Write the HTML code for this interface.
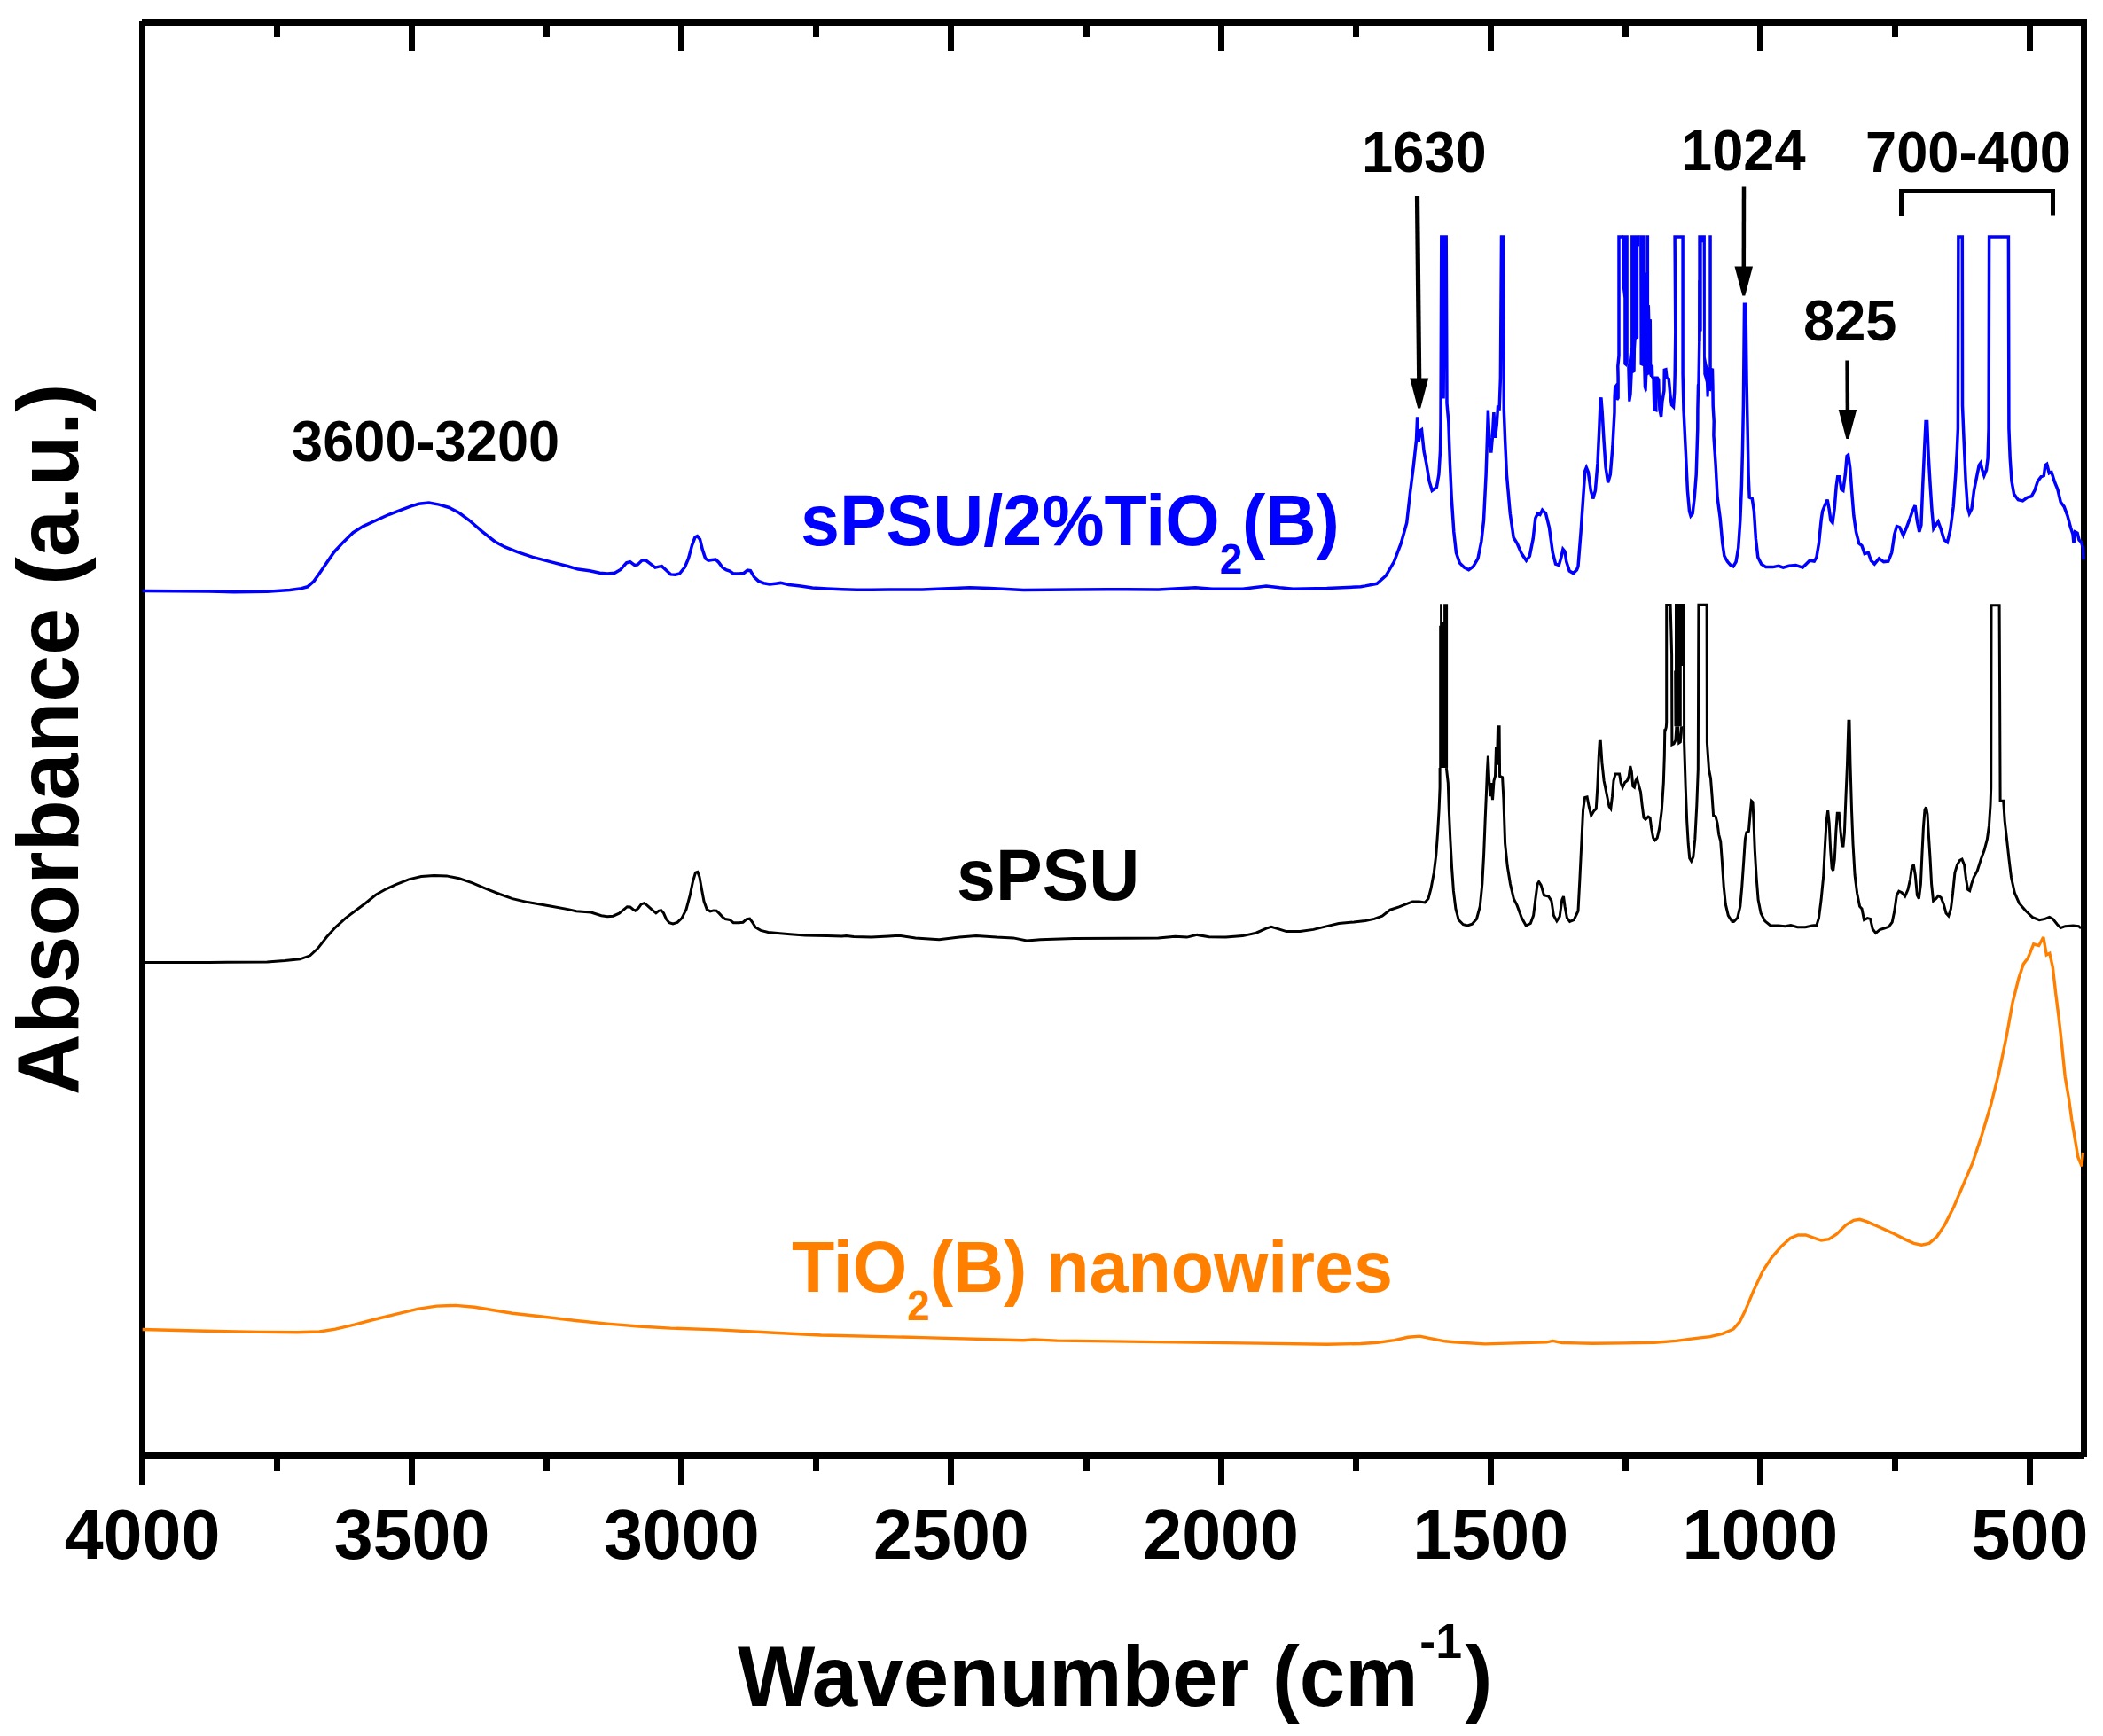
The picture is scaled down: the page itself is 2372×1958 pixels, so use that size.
<!DOCTYPE html>
<html lang="en"><head><meta charset="utf-8"><title>FTIR spectra</title>
<style>html,body{margin:0;padding:0;background:#fff}body{width:2372px;height:1958px;overflow:hidden}svg{display:block}text{font-family:'Liberation Sans', sans-serif;font-weight:bold}</style></head><body>
<svg width="2372" height="1958" viewBox="0 0 2372 1958">
<rect x="0" y="0" width="2372" height="1958" fill="#ffffff"/>
<g fill="#000000" shape-rendering="crispEdges">
<rect x="157" y="24" width="7" height="1651"/>
<rect x="160" y="21" width="2194" height="8"/>
<rect x="2347" y="21" width="7" height="1622"/>
<rect x="157" y="1638" width="2194" height="8"/>
<rect x="309" y="29" width="7" height="13"/>
<rect x="309" y="1646" width="7" height="13"/>
<rect x="461" y="29" width="7" height="29"/>
<rect x="461" y="1646" width="7" height="29"/>
<rect x="613" y="29" width="7" height="13"/>
<rect x="613" y="1646" width="7" height="13"/>
<rect x="765" y="29" width="7" height="29"/>
<rect x="765" y="1646" width="7" height="29"/>
<rect x="917" y="29" width="7" height="13"/>
<rect x="917" y="1646" width="7" height="13"/>
<rect x="1069" y="29" width="7" height="29"/>
<rect x="1069" y="1646" width="7" height="29"/>
<rect x="1222" y="29" width="7" height="13"/>
<rect x="1222" y="1646" width="7" height="13"/>
<rect x="1374" y="29" width="7" height="29"/>
<rect x="1374" y="1646" width="7" height="29"/>
<rect x="1526" y="29" width="7" height="13"/>
<rect x="1526" y="1646" width="7" height="13"/>
<rect x="1678" y="29" width="7" height="29"/>
<rect x="1678" y="1646" width="7" height="29"/>
<rect x="1830" y="29" width="7" height="13"/>
<rect x="1830" y="1646" width="7" height="13"/>
<rect x="1982" y="29" width="7" height="29"/>
<rect x="1982" y="1646" width="7" height="29"/>
<rect x="2134" y="29" width="7" height="13"/>
<rect x="2134" y="1646" width="7" height="13"/>
<rect x="2286" y="29" width="7" height="29"/>
<rect x="2286" y="1646" width="7" height="29"/>
</g>
<g fill="none" stroke-linejoin="miter" stroke-miterlimit="3" stroke-linecap="butt">
<polyline stroke="#ff8000" stroke-width="3.4" points="160.7,1499.5 221.3,1501.0 292.7,1502.4 335.4,1502.7 360.4,1502.0 378.2,1499.2 399.6,1494.2 421.0,1488.5 446.0,1482.4 471.0,1476.3 492.4,1473.1 513.8,1472.4 535.2,1474.2 556.6,1477.8 578.0,1481.3 613.6,1485.3 649.3,1489.5 685.0,1493.1 720.6,1496.0 756.3,1498.1 809.8,1499.9 863.3,1502.7 926.1,1506.0 1040.2,1508.6 1154.3,1511.7 1165.7,1510.9 1192.4,1512.1 1306.5,1513.6 1420.6,1515.1 1496.7,1516.2 1534.7,1515.5 1553.8,1514.3 1572.8,1511.7 1588.0,1508.3 1601.3,1507.1 1614.6,1509.8 1629.8,1512.8 1640.0,1513.8 1674.8,1515.9 1709.6,1514.9 1744.4,1513.8 1751.4,1512.4 1761.8,1514.5 1796.6,1515.2 1831.4,1514.9 1866.2,1514.2 1890.6,1512.4 1911.5,1509.6 1928.9,1507.6 1942.8,1504.4 1955.0,1499.2 1962.0,1491.2 1968.9,1477.3 1977.6,1456.4 1988.1,1433.8 1998.5,1418.1 2009.0,1405.9 2019.4,1396.5 2028.1,1393.0 2036.8,1393.0 2045.5,1396.2 2054.2,1399.0 2062.9,1397.6 2071.6,1392.0 2082.1,1381.6 2090.8,1376.3 2097.7,1375.3 2106.4,1378.1 2120.3,1384.3 2134.3,1390.6 2148.2,1397.6 2158.6,1402.4 2167.3,1404.2 2176.0,1402.4 2184.7,1394.8 2193.4,1381.6 2203.9,1360.7 2214.3,1336.3 2224.8,1311.9 2235.2,1280.6 2245.6,1245.8 2254.4,1211.0 2263.1,1169.2 2270.0,1130.9 2277.0,1103.1 2282.2,1087.4 2287.4,1080.5 2293.7,1064.8 2299.6,1066.5 2304.8,1057.1 2308.3,1077.0 2311.8,1075.2 2315.3,1090.9 2318.7,1120.5 2322.2,1148.3 2325.7,1179.7 2329.2,1214.5 2333.4,1238.8 2336.8,1263.2 2340.3,1284.1 2343.8,1305.0 2348.0,1315.4 2349.4,1299.8"/>
<polyline stroke="#000000" stroke-width="3.0" points="162.8,1085.5 235.6,1085.5 301.2,1084.9 321.2,1083.5 338.3,1081.8 349.7,1077.8 358.3,1069.8 368.3,1057.0 378.2,1046.1 389.7,1035.6 401.1,1027.0 412.5,1018.5 423.9,1009.3 435.3,1002.8 446.7,997.6 461.0,991.9 475.2,988.5 489.5,987.4 503.8,987.9 518.0,990.8 532.3,995.6 549.4,1002.8 563.7,1008.5 578.0,1013.6 595.1,1017.6 620.8,1021.9 640.7,1025.6 650.0,1027.7 666.6,1029.1 678.3,1032.7 685.0,1033.7 691.6,1033.2 698.3,1030.2 703.3,1026.1 707.4,1022.7 710.7,1022.9 714.1,1025.7 716.6,1027.1 719.9,1024.4 723.2,1019.9 726.6,1018.6 729.9,1021.1 734.9,1025.7 739.9,1029.9 742.9,1027.4 745.7,1026.6 748.5,1029.9 751.5,1036.6 754.9,1040.7 759.0,1041.9 764.0,1040.4 769.0,1035.7 774.0,1025.7 778.2,1009.9 781.5,994.1 784.5,984.1 786.8,983.3 789.0,989.1 791.5,1003.3 794.0,1016.6 797.3,1025.7 801.1,1027.9 804.8,1026.9 808.1,1027.1 811.4,1030.4 814.8,1034.1 818.1,1036.6 823.1,1037.4 827.2,1040.7 833.1,1040.7 838.1,1040.2 842.2,1036.6 845.6,1036.2 848.9,1040.7 852.2,1046.0 858.0,1049.4 866.4,1051.5 879.7,1052.7 891.3,1053.7 908.0,1054.9 932.9,1055.5 949.6,1055.9 954.6,1055.4 962.9,1056.5 982.9,1057.0 1002.2,1056.0 1013.6,1055.2 1032.6,1057.9 1059.2,1059.8 1082.0,1057.1 1101.1,1055.6 1123.9,1057.1 1142.9,1057.9 1158.1,1060.9 1173.3,1059.8 1211.4,1058.6 1268.4,1058.3 1306.5,1057.9 1325.5,1056.3 1338.8,1057.1 1350.2,1054.4 1363.6,1056.7 1382.6,1057.1 1401.6,1055.6 1416.8,1052.2 1428.2,1047.2 1433.9,1045.3 1441.5,1047.6 1451.0,1050.6 1466.3,1050.6 1481.5,1048.4 1496.7,1044.6 1510.0,1041.5 1527.1,1040.0 1540.0,1038.4 1550.1,1036.4 1559.0,1033.1 1567.9,1026.2 1578.0,1022.9 1586.9,1019.4 1593.2,1016.9 1600.8,1016.9 1607.2,1017.9 1611.0,1013.6 1614.0,1002.2 1617.3,984.4 1619.8,964.1 1621.6,938.8 1623.1,913.5 1624.1,888.1 1624.1,888.1 1624.1,866.1"/>
<polyline stroke="#000000" stroke-width="3.0" points="1631.4,866.1 1633.3,883.0 1634.3,913.5 1635.8,946.4 1637.6,979.4 1639.4,1004.7 1641.9,1025.0 1645.2,1037.6 1650.3,1042.7 1655.3,1044.0 1660.4,1042.2 1665.5,1036.4 1669.3,1022.4 1671.8,997.1 1673.6,964.1 1675.1,926.1 1676.4,895.7 1677.4,870.4 1678.4,852.6 1679.4,875.4 1680.7,898.2 1681.9,883.0 1683.5,902.1 1685.0,880.5 1686.5,875.4 1687.5,842.5 1688.5,862.8 1689.5,819.7 1691.1,819.7 1691.6,875.4 1694.6,876.7 1695.9,900.8 1697.6,951.5 1700.2,976.8 1703.5,997.1 1707.3,1013.6 1711.1,1021.2 1716.2,1035.1 1721.2,1044.0 1726.3,1041.5 1729.6,1032.6 1732.1,1012.3 1734.1,997.1 1735.7,994.6 1738.2,998.4 1741.5,1009.8 1746.6,1011.0 1749.9,1016.1 1752.4,1032.6 1755.9,1038.9 1759.2,1033.8 1761.8,1014.8 1763.5,1011.0 1765.1,1022.4 1767.4,1035.1 1770.6,1039.4 1775.2,1037.6 1778.8,1030.0 1780.0,1027.5 1782.0,989.5 1783.8,951.5 1785.6,913.5 1787.6,899.5 1790.1,898.8 1792.2,909.7 1794.7,919.8 1797.7,914.7 1800.3,912.2 1801.8,888.1 1803.3,852.6 1804.3,836.2 1805.3,836.2 1806.9,860.2 1809.1,880.5 1811.7,893.2 1815.0,909.7 1816.8,912.2 1818.5,898.2 1820.0,880.5 1822.1,872.9 1824.6,872.9 1826.6,872.9 1828.2,883.0 1830.2,888.1 1832.7,882.5 1835.3,880.5 1837.3,875.4 1838.8,864.0 1840.3,870.4 1841.8,886.8 1843.4,888.1 1844.9,880.5 1846.4,878.0 1848.4,885.6 1850.5,893.2 1852.2,908.4 1854.0,922.3 1856.0,924.1 1859.1,921.1 1861.1,922.3 1862.6,933.7 1864.7,945.1 1866.7,947.7 1869.2,945.1 1871.8,933.7 1874.3,913.5 1876.3,883.0 1877.3,852.6 1877.8,822.2 1877.8,825.5 1879.3,820.3 1879.7,815.2 1879.7,682.5 1884.1,682.5 1884.9,711.5 1885.6,738.4 1885.9,840.0 1888.0,839.0 1889.9,834.9 1890.9,819.3"/>
<polyline stroke="#000000" stroke-width="3.0" points="1892.7,819.3 1893.7,838.0 1895.3,836.9 1896.3,826.6 1896.6,819.3"/>
<polyline stroke="#000000" stroke-width="3.0" points="1899.5,750.9 1899.6,837.4 1901.2,888.1 1902.7,926.1 1904.2,951.5 1905.7,967.9 1907.7,971.2 1909.8,966.7 1911.8,946.4 1913.8,908.4 1915.3,867.8 1915.9,682.3 1925.1,682.3 1925.4,837.4 1927.5,867.8 1929.5,878.0 1931.1,898.2 1932.6,919.8 1935.1,921.1 1937.1,928.7 1938.7,941.3 1940.7,948.9 1942.2,969.2 1944.2,999.6 1946.3,1019.9 1949.3,1032.6 1952.9,1038.2 1956.2,1039.4 1955.7,1039.4 1959.8,1035.1 1962.8,1022.4 1964.8,999.6 1966.9,969.2 1968.4,946.4 1969.9,938.8 1972.4,937.5 1974.0,918.5 1975.5,903.3 1977.0,904.6 1978.0,926.1 1979.3,959.1 1981.1,989.5 1983.1,1014.8 1986.1,1030.0 1990.7,1038.9 1997.0,1044.0 2005.9,1044.0 2013.5,1044.7 2019.8,1043.5 2027.4,1045.8 2036.3,1045.8 2043.9,1044.0 2049.0,1043.5 2051.5,1035.1 2054.1,1014.8 2056.6,989.5 2058.6,951.5 2060.1,926.1 2061.7,914.2 2063.2,928.7 2064.7,959.1 2066.2,979.4 2067.7,981.9 2069.3,969.2 2070.8,938.8 2072.3,917.3 2074.3,917.3 2075.9,936.3 2077.4,951.5 2078.9,955.3 2080.4,938.8 2081.9,900.8 2083.5,862.8 2085.0,813.3 2086.0,813.3 2087.0,862.8 2088.5,913.5 2090.0,951.5 2092.1,987.0 2094.6,1007.2 2097.6,1022.4 2100.0,1025.0 2102.5,1037.6 2106.3,1035.6 2109.6,1036.4 2112.2,1047.8 2115.7,1052.4 2120.3,1048.5 2125.3,1047.0 2130.4,1045.3 2134.2,1040.2 2136.8,1027.5 2139.3,1009.8 2141.8,1005.2 2145.1,1006.7 2148.7,1011.0 2152.0,1003.4 2154.5,992.0 2156.3,979.4 2158.3,975.0 2160.3,987.0 2162.4,1009.8 2164.4,1013.6 2166.4,997.1 2167.9,964.1 2169.4,933.7 2171.0,913.5 2172.5,910.4 2174.0,918.5 2175.5,943.9 2177.1,969.2 2178.6,997.1 2180.6,1016.1 2183.6,1013.6 2186.2,1010.5 2189.2,1012.3 2192.3,1019.9 2195.0,1030.0 2197.8,1033.1 2200.4,1025.0 2202.6,1007.2 2204.9,984.4 2207.5,975.6 2210.5,970.5 2213.0,969.2 2215.6,975.6 2217.6,992.0 2219.6,1003.4 2221.7,1004.7 2223.7,997.1 2226.2,989.5 2230.3,981.9 2234.3,969.2 2238.1,959.1 2241.4,946.4 2243.5,931.2 2245.0,908.4 2245.7,888.1 2246.0,682.8 2255.1,682.8 2255.6,781.7 2256.1,903.3 2259.7,903.3 2261.2,926.1 2263.5,946.4 2266.0,969.2 2268.5,989.5 2272.4,1007.2 2277.4,1018.6 2285.0,1027.5 2292.6,1034.6 2300.2,1037.6 2306.6,1036.4 2311.6,1034.4 2315.4,1036.4 2320.5,1042.7 2324.3,1046.5 2329.4,1044.7 2338.2,1044.0 2344.6,1044.7 2347.1,1047.0"/>
<polygon fill="#000000" stroke="none" points="1624.1,681.3 1626.9,681.3 1626.9,701.1 1628.1,701.1 1628.1,681.3 1633.1,681.3 1633.1,866.1 1623.2,866.1 1623.2,705.8 1624.1,705.8"/>
<polygon fill="#000000" stroke="none" points="1889.0,680.9 1901.0,680.9 1901.0,750.9 1896.8,750.9 1896.8,819.3 1888.5,819.3 1888.2,757.1 1889.0,756.1"/>
<polyline stroke="#0000ff" stroke-width="3.5" points="160.8,666.6 235.6,666.9 264.1,667.8 301.2,667.2 326.9,665.5 338.3,664.1 346.9,661.8 354.0,655.5 361.1,645.5 368.3,635.0 376.8,622.7 386.8,611.9 398.2,600.7 409.6,593.6 423.9,587.0 438.2,580.5 452.4,575.1 463.8,570.8 472.4,568.2 483.8,567.1 495.2,569.1 506.6,572.5 518.0,578.5 529.5,587.0 543.7,599.3 558.0,610.7 569.4,617.0 583.7,622.7 600.8,628.4 620.8,633.6 640.7,638.7 652.1,642.1 665.0,643.7 676.6,646.2 685.0,647.0 693.3,646.2 699.9,642.4 706.6,634.9 710.7,633.7 715.7,637.4 719.1,636.9 724.1,632.1 728.2,631.9 733.2,635.7 739.0,640.2 743.2,639.1 746.5,638.6 751.5,643.2 756.5,647.9 761.5,648.2 766.5,647.0 772.3,639.9 776.5,629.9 780.6,614.9 784.0,605.8 786.5,604.6 789.5,608.3 792.3,619.9 795.6,629.9 799.0,632.1 803.1,631.6 807.3,631.1 810.6,634.1 814.8,639.9 818.9,642.7 823.1,644.0 827.2,646.9 833.1,647.0 838.9,646.5 843.1,643.2 846.4,643.7 850.5,650.7 855.5,655.4 861.4,657.7 868.0,659.0 874.7,658.2 880.5,657.4 889.7,659.4 903.0,661.0 916.3,662.9 932.9,663.9 949.6,664.7 966.2,665.2 982.9,665.2 1002.2,665.1 1040.2,665.1 1093.5,662.8 1116.3,663.6 1154.3,665.5 1211.4,665.1 1249.4,664.7 1306.5,665.1 1348.3,662.8 1367.4,664.3 1401.6,664.3 1428.2,660.9 1443.4,662.8 1458.7,664.3 1496.7,663.6 1534.7,661.7 1540.0,660.9 1553.0,658.3 1563.3,649.2 1572.4,633.6 1580.2,612.9 1586.7,589.6 1590.5,555.9 1594.4,524.8 1597.5,496.3 1598.6,470.3 1600.1,498.8 1601.7,485.9 1603.5,484.6 1606.1,509.2 1608.7,522.2 1612.1,542.9 1615.2,553.3 1620.4,549.4 1622.9,535.1 1624.5,509.2 1625.0,478.1 1625.8,267.1 1627.4,267.1 1628.1,449.6 1629.2,267.1 1631.2,267.1 1632.0,454.8 1633.8,475.5 1635.4,522.2 1637.2,561.1 1639.8,599.9 1642.4,623.3 1646.3,634.9 1651.5,640.1 1656.6,642.7 1661.8,638.8 1667.0,629.8 1670.9,610.3 1673.5,587.0 1676.1,535.1 1677.4,496.3 1678.4,462.6 1680.0,498.8 1681.8,510.5 1683.3,493.7 1684.9,465.1 1686.5,493.7 1688.3,478.1 1689.6,457.4 1691.1,462.6 1692.4,426.3 1693.5,267.1 1695.5,267.1 1696.3,462.6 1697.6,496.3 1699.4,535.1 1703.3,579.2 1707.2,606.4 1711.1,612.9 1716.3,624.6 1721.5,632.3 1725.3,627.2 1729.2,607.7 1731.8,584.4 1734.4,579.2 1737.0,580.5 1739.6,575.3 1743.5,579.2 1747.4,594.8 1751.3,623.3 1754.6,636.2 1758.3,637.5 1760.9,628.5 1762.9,619.4 1765.0,622.0 1766.8,633.6 1770.2,644.0 1774.6,646.6 1778.5,642.7 1780.0,638.8 1783.1,599.9 1785.7,561.1 1787.8,531.2 1789.3,527.4 1791.4,532.5 1794.3,553.3 1796.8,562.4 1799.4,553.3 1802.0,522.2 1803.8,483.3 1805.1,452.2 1805.9,448.3 1807.2,465.1 1809.0,496.3 1811.1,527.4 1813.7,544.2 1816.3,535.1 1818.9,504.0 1821.0,465.1 1821.1,448.7 1821.7,436.8 1823.2,434.8 1823.8,450.7 1825.1,448.7 1825.1,426.2 1824.8,413.0 1826.0,401.0 1826.0,267.1 1830.9,267.1"/>
<polyline stroke="#0000ff" stroke-width="3.5" points="1863.3,411.6 1863.7,424.9 1865.0,426.2 1865.4,444.8 1865.9,462.0 1867.8,462.6 1867.8,426.2 1869.4,426.2 1870.7,428.2 1871.2,446.1 1872.0,462.0 1873.6,469.9 1874.9,452.7 1876.9,440.8 1877.3,417.2 1878.9,416.7 1880.0,426.2 1882.2,427.3 1882.9,434.2 1883.9,446.1 1885.5,456.7 1887.5,458.7 1888.7,442.1 1889.2,422.2 1889.8,374.5 1889.1,267.1 1898.1,267.1 1898.1,422.2 1899.0,462.0 1901.3,509.2 1903.4,553.3 1905.5,576.6 1907.0,581.8 1909.1,579.2 1911.2,561.1 1913.2,535.1 1914.8,483.3 1914.9,462.0 1915.5,434.2 1916.0,432.8 1916.8,385.1 1917.1,316.2"/>
<polyline stroke="#0000ff" stroke-width="3.5" points="1931.4,415.6 1931.9,435.5 1932.2,458.0 1933.2,475.2 1932.9,491.1 1935.0,522.2 1937.1,561.1 1940.2,584.4 1942.8,612.9 1944.9,627.2 1948.5,633.6 1952.4,638.0 1955.0,638.8 1958.1,633.6 1960.7,618.1 1962.8,587.0 1964.4,548.1 1965.4,509.2 1966.4,457.4 1967.5,343.3 1969.0,343.3 1970.1,431.5 1971.1,483.3 1972.1,535.1 1973.2,561.1 1976.3,562.4 1978.4,576.6 1980.4,607.7 1982.8,628.5 1986.7,636.2 1991.8,639.6 1999.6,639.6 2006.1,638.3 2011.3,640.1 2017.8,638.3 2025.5,637.5 2033.3,640.1 2037.2,636.2 2041.1,632.3 2046.3,633.1 2048.9,628.5 2051.5,612.9 2054.1,587.0 2055.6,576.6 2058.2,570.1 2061.1,563.7 2063.1,574.0 2064.9,587.0 2067.0,589.6 2069.1,574.0 2071.2,548.1 2072.7,537.7 2074.8,537.7 2076.9,552.0 2078.9,553.3 2081.3,535.1 2083.1,514.4 2084.6,513.1 2086.7,527.4 2088.8,555.9 2090.9,581.8 2093.5,599.9 2096.8,612.9 2100.0,615.5 2103.1,624.6 2107.3,623.3 2110.4,632.3 2114.3,636.2 2119.4,629.8 2124.6,633.6 2129.8,633.1 2133.7,623.3 2136.8,602.5 2139.4,593.5 2142.8,594.8 2146.7,603.8 2150.5,594.8 2153.9,585.7 2157.0,576.6 2160.1,570.1 2162.2,587.0 2164.8,599.9 2166.9,592.2 2168.7,548.1 2170.5,509.2 2172.1,475.5 2173.6,475.5 2175.2,514.4 2177.2,548.1 2179.1,576.6 2180.9,596.1 2183.5,592.2 2186.1,588.3 2189.4,597.4 2192.8,609.0 2196.4,611.6 2199.8,597.4 2203.2,571.4 2205.8,535.1 2207.3,509.2 2208.4,483.3 2208.9,267.1 2213.3,267.1 2213.5,457.4 2215.1,496.3 2217.2,542.9 2219.2,571.4 2221.3,579.2 2223.9,574.0 2226.5,553.3 2229.6,537.7 2232.2,524.8 2234.0,522.2 2235.8,530.0 2237.9,536.4 2240.5,530.0 2242.1,517.0 2243.1,483.3 2243.6,267.1 2265.4,267.1 2265.9,483.3 2267.2,517.0 2269.0,542.9 2271.6,557.2 2276.3,563.7 2281.5,564.9 2286.6,561.1 2291.3,559.8 2294.9,553.3 2298.3,542.9 2302.2,537.7 2305.3,536.4 2306.9,524.8 2308.7,523.5 2311.3,533.8 2313.9,532.5 2317.2,542.9 2320.9,552.0 2324.2,566.2 2328.1,571.4 2332.0,581.8 2335.4,594.8 2338.0,602.5 2339.0,612.9 2340.6,599.9 2343.1,601.2 2345.0,609.0 2347.6,611.6 2349.4,618.1 2350.1,631.0"/>
<polygon fill="#0000ff" stroke="none" points="1829.2,265.2 1836.8,265.2 1836.8,407.7 1835.2,414.3 1831.2,411.0 1831.2,336.1 1829.5,321.5"/>
<polygon fill="#0000ff" stroke="none" points="1839.1,265.2 1847.8,265.2 1847.8,278.5 1848.2,278.5 1848.2,381.2 1845.8,382.5 1845.1,393.1 1844.7,419.6 1841.8,420.9 1840.7,444.8 1839.4,452.7 1836.2,452.7 1835.2,414.3 1836.8,407.7 1838.5,393.1 1839.1,392.4"/>
<polygon fill="#0000ff" stroke="none" points="1847.6,265.2 1849.2,265.2 1849.2,278.5 1847.6,278.5"/>
<polygon fill="#0000ff" stroke="none" points="1849.1,265.2 1855.7,265.2 1855.7,307.6 1856.6,307.6 1856.6,267.2 1857.0,265.2 1860.1,265.2 1860.1,344.1 1861.0,344.3 1861.4,360.0 1863.0,360.2 1863.3,411.6 1864.1,412.3 1864.1,424.9 1861.0,424.9 1860.1,422.2 1858.4,423.6 1857.7,440.8 1855.7,442.8 1853.7,436.8 1853.1,413.0 1849.5,411.6"/>
<polygon fill="#0000ff" stroke="none" points="1915.3,265.2 1923.9,265.2 1923.9,402.4 1925.3,410.3 1926.3,414.3 1927.3,414.3 1927.3,265.2 1930.8,265.2 1930.8,414.9 1931.9,415.6 1931.9,435.5 1929.9,441.4 1927.9,440.8 1927.6,447.4 1924.6,447.4 1923.9,431.5 1922.6,426.2 1921.3,422.2 1921.0,402.4 1920.6,273.2 1919.7,273.2 1919.7,373.2 1918.6,373.9 1918.4,385.1 1915.3,385.1"/>
</g>
<text transform="translate(160.5,1758.0) scale(1,1.015)" font-size="79.0" fill="#000" text-anchor="middle">4000</text>
<text transform="translate(464.6,1758.0) scale(1,1.015)" font-size="79.0" fill="#000" text-anchor="middle">3500</text>
<text transform="translate(768.8,1758.0) scale(1,1.015)" font-size="79.0" fill="#000" text-anchor="middle">3000</text>
<text transform="translate(1072.9,1758.0) scale(1,1.015)" font-size="79.0" fill="#000" text-anchor="middle">2500</text>
<text transform="translate(1377.1,1758.0) scale(1,1.015)" font-size="79.0" fill="#000" text-anchor="middle">2000</text>
<text transform="translate(1681.2,1758.0) scale(1,1.015)" font-size="79.0" fill="#000" text-anchor="middle">1500</text>
<text transform="translate(1985.4,1758.0) scale(1,1.015)" font-size="79.0" fill="#000" text-anchor="middle">1000</text>
<text transform="translate(2289.5,1758.0) scale(1,1.015)" font-size="79.0" fill="#000" text-anchor="middle">500</text>
<text transform="translate(832.0,1923.5) scale(1,1.040)" font-size="92.5" fill="#000" text-anchor="start">Wavenumber (cm<tspan font-size="53.6" dx="1.8" dy="-51">-1</tspan><tspan dx="3.5" dy="51">)</tspan></text>
<text transform="translate(87.5,1235.0) rotate(-90) scale(1,1.040)" font-size="95.0" fill="#000" text-anchor="start">Absorbance (a.u.)</text>
<text transform="translate(329.0,519.5) scale(1,1.025)" font-size="63.2" fill="#000" text-anchor="start">3600-3200</text>
<text transform="translate(1536.0,193.5) scale(1,1.025)" font-size="63.2" fill="#000" text-anchor="start">1630</text>
<text transform="translate(1896.0,191.5) scale(1,1.025)" font-size="63.2" fill="#000" text-anchor="start">1024</text>
<text transform="translate(2104.0,194.0) scale(1,1.025)" font-size="63.2" fill="#000" text-anchor="start">700-400</text>
<text transform="translate(2034.0,383.5) scale(1,1.025)" font-size="63.2" fill="#000" text-anchor="start">825</text>
<text transform="translate(903.0,615.0) scale(1,1.040)" font-size="79.0" fill="#0000ff" text-anchor="start">sPSU/2%TiO<tspan font-size="45.8" dy="30.5">2</tspan><tspan dy="-30.5">(B)</tspan></text>
<text transform="translate(1079.0,1014.5) scale(1,1.040)" font-size="79.0" fill="#000" text-anchor="start">sPSU</text>
<text transform="translate(893.0,1457.0) scale(1,1.040)" font-size="79.0" fill="#ff8000" text-anchor="start">TiO<tspan font-size="45.8" dy="30.5">2</tspan><tspan dy="-30.5">(B) nanowires</tspan></text>
<line x1="1598.5" y1="221.0" x2="1600.7" y2="428.5" stroke="#000" stroke-width="5.2"/><polygon fill="#000" points="1590.2,426.5 1611.2,426.5 1602.2,460.5 1599.2,460.5"/>
<line x1="1967.0" y1="210.5" x2="1966.8" y2="302.5" stroke="#000" stroke-width="4.5"/><polygon fill="#000" points="1956.5,300.5 1977.0,300.5 1968.3,333.5 1965.3,333.5"/>
<line x1="2083.6" y1="406.5" x2="2083.9" y2="464.0" stroke="#000" stroke-width="4.5"/><polygon fill="#000" points="2073.7,462.0 2094.2,462.0 2085.4,495.0 2082.4,495.0"/>
<polyline fill="none" stroke="#000" stroke-width="5" points="2144.5,244 2144.5,215.6 2315.5,215.6 2315.5,243.5"/>
</svg></body></html>
